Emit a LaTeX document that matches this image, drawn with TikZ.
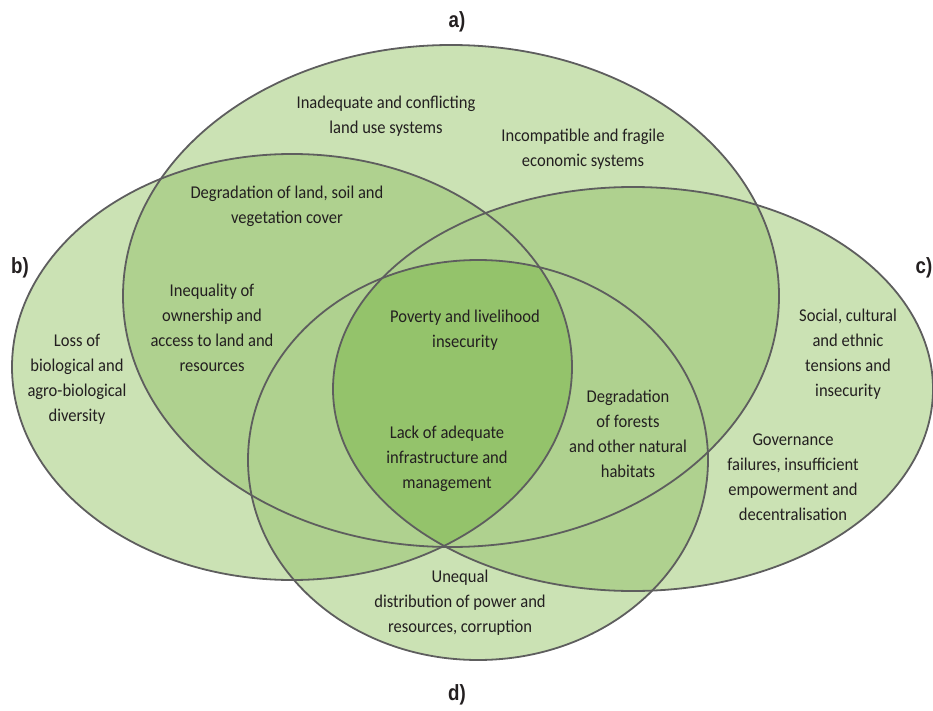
\documentclass[tikz,border=0pt]{standalone}
\usepackage{fontspec}
\setmainfont{Carlito}[FakeStretch=0.92]
\newfontfamily\letterfont{Liberation Sans}[FakeStretch=0.85]
\definecolor{lightg}{HTML}{CBE2B4}
\definecolor{midg}{HTML}{AFD18F}
\definecolor{darkg}{HTML}{94C36B}
\definecolor{edge}{HTML}{5E5E5E}
\definecolor{ink}{HTML}{231F20}
\begin{document}
\begin{tikzpicture}[x=1pt,y=-1pt,
  lab/.style={align=center,text=ink,font=\fontsize{18}{25}\selectfont,inner sep=0pt},
  letter/.style={text=ink,font=\letterfont\bfseries\fontsize{22}{26}\selectfont,inner sep=0pt},
  outline/.style={draw=edge,line width=1.8pt}]
\useasboundingbox (0,0) rectangle (933,711);
\def\ea{(451,296) ellipse [x radius=328pt, y radius=251pt]}
\def\eb{(292,367) ellipse [x radius=280pt, y radius=213pt]}
\def\ec{(633,389) ellipse [x radius=300pt, y radius=202pt]}
\def\ed{(478,460) ellipse [x radius=230pt, y radius=200pt]}
% single
\fill[lightg] \ea; \fill[lightg] \eb; \fill[lightg] \ec; \fill[lightg] \ed;
% pairs
\begin{scope}\clip \ea; \fill[midg] \eb; \fill[midg] \ec; \fill[midg] \ed;\end{scope}
\begin{scope}\clip \eb; \fill[midg] \ec; \fill[midg] \ed;\end{scope}
\begin{scope}\clip \ec; \fill[midg] \ed;\end{scope}
% all four
\begin{scope}\clip \ea; \clip \eb; \clip \ec; \fill[darkg] \ed;\end{scope}
% outlines
\draw[outline] \ea; \draw[outline] \eb; \draw[outline] \ec; \draw[outline] \ed;
% letters
\node[letter] (la) at (457,22) {a)};
\node[letter] (lb) at (20,268) {b)};
\node[letter] (lc) at (924,268) {c)};
\node[letter] (ld) at (457,695) {d)};
% texts
\node[lab] (t1) at (386,116) {Inadequate and conflicting\\land use systems};
\node[lab] (t2) at (583,149) {Incompatible and fragile\\economic systems};
\node[lab] (t3) at (287,206) {Degradation of land, soil and\\vegetation cover};
\node[lab] (t4) at (212,328) {Inequality of\\ownership and\\access to land and\\resources};
\node[lab] (t5) at (77,379) {Loss of\\biological and\\agro-biological\\diversity};
\node[lab] (t6) at (465,330) {Poverty and livelihood\\insecurity};
\node[lab] (t7) at (447,459) {Lack of adequate\\infrastructure and\\management};
\node[lab] (t8) at (628,434) {Degradation\\of forests\\and other natural\\habitats};
\node[lab] (t9) at (848,354) {Social, cultural\\and ethnic\\tensions and\\insecurity};
\node[lab] (t10) at (793,477) {Governance\\failures, insufficient\\empowerment and\\decentralisation};
\node[lab] (t11) at (460,603) {Unequal\\distribution of power and\\resources, corruption};
\end{tikzpicture}
\end{document}
